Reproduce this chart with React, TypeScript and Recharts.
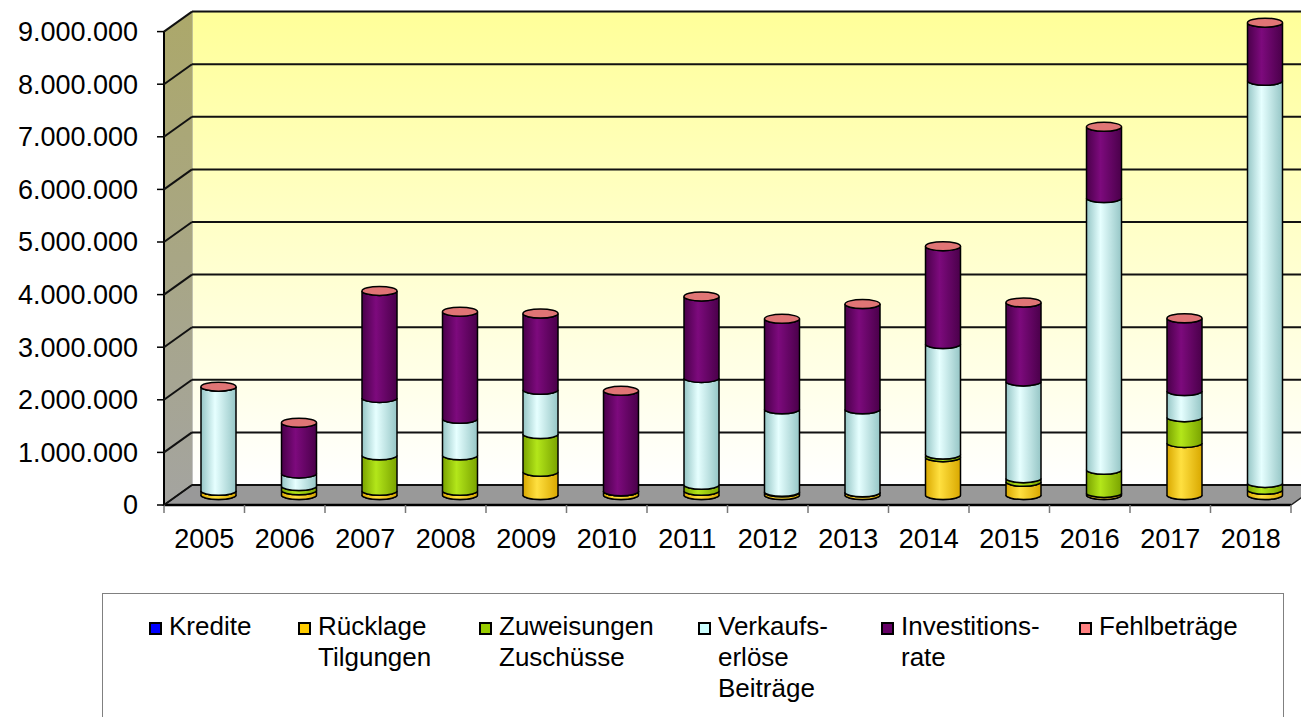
import { BarChart, Bar, XAxis, YAxis, ReferenceArea, ReferenceLine, Legend } from 'recharts';

const YEARS = ['2005', '2006', '2007', '2008', '2009', '2010', '2011', '2012', '2013', '2014', '2015', '2016', '2017', '2018'];
const KREDITE = [0, 0, 0, 0, 0, 0, 0, 0, 0, 0, 0, 0, 0, 0];
const RUECKLAGE = [80000, 90000, 80000, 80000, 440000, 70000, 80000, 50000, 50000, 720000, 250000, 40000, 990000, 100000];
const ZUWEISUNGEN = [0, 80000, 675000, 675000, 720000, 0, 115000, 10000, 0, 50000, 70000, 440000, 490000, 130000];
const VERKAUF = [1980000, 240000, 1090000, 695000, 840000, 0, 2030000, 1570000, 1580000, 2100000, 1840000, 5165000, 495000, 7645000];
const INVEST = [0, 965000, 2035000, 2035000, 1450000, 1910000, 1550000, 1720000, 2000000, 1860000, 1500000, 1355000, 1385000, 1105000];
const FEHL = [0, 0, 0, 0, 0, 0, 0, 0, 0, 0, 0, 0, 0, 0];
const Y_TICKS = [0, 1000000, 2000000, 3000000, 4000000, 5000000, 6000000, 7000000, 8000000, 9000000];

const SERIES = [
  { key: 'kredite', lines: ['Kredite'], color: '#0000ff', edge: '#0000b0', mid: '#3333ff' },
  { key: 'ruecklage', lines: ['Rücklage', 'Tilgungen'], color: '#ffcc00', edge: '#d9a800', mid: '#ffe040' },
  { key: 'zuweisungen', lines: ['Zuweisungen', 'Zuschüsse'], color: '#99cc00', edge: '#7aa300', mid: '#b3e61a' },
  { key: 'verkauf', lines: ['Verkaufs-', 'erlöse', 'Beiträge'], color: '#ccffff', edge: '#96c6c6', mid: '#e6ffff' },
  { key: 'invest', lines: ['Investitions-', 'rate'], color: '#660066', edge: '#4a004a', mid: '#7d0a7d' },
  { key: 'fehl', lines: ['Fehlbeträge'], color: '#ff8080', edge: '#d86a6a', mid: '#e07575' },
];

const data = YEARS.map((year, i) => ({
  year,
  kredite: KREDITE[i],
  ruecklage: RUECKLAGE[i],
  zuweisungen: ZUWEISUNGEN[i],
  verkauf: VERKAUF[i],
  invest: INVEST[i],
  fehl: FEHL[i],
}));

// half the 3D depth offset
const DX = 14;
const DY = 10;
const FONT = '"Liberation Sans", Arial, sans-serif';
const PLOT_LEFT = 178;
const PLOT_W = 1127;
const BAND = PLOT_W / YEARS.length;

const fmt = (v: number) => String(v).replace(/\B(?=(\d{3})+(?!\d))/g, '.');

const cylinder = (s: typeof SERIES[number]) => (props: any) => {
  const { x, y, width, height } = props;
  const rx = width / 2;
  const ry = 4.5;
  if (s.key === 'fehl') {
    return (
      <ellipse cx={x + rx} cy={y} rx={rx} ry={ry} fill={s.mid} stroke="#000" strokeWidth={1.5} />
    );
  }
  const yb = y + height;
  const d = `M${x},${y} A${rx},${ry} 0 0 0 ${x + width},${y} L${x + width},${yb} A${rx},${ry} 0 0 1 ${x},${yb} Z`;
  return <path d={d} fill={`url(#cyl-${s.key})`} stroke="#000" strokeWidth={1.5} />;
};

const Walls = (props: any) => {
  const { x, y, width, height } = props;
  const bottom = y + height;
  return (
    <g>
      <defs>
        <linearGradient id="backwall" x1="0" y1="0" x2="0" y2="1">
          <stop offset="0%" stopColor="#ffff99" />
          <stop offset="100%" stopColor="#ffffff" />
        </linearGradient>
        <linearGradient id="sidewall" x1="0" y1="0" x2="0" y2="1">
          <stop offset="0%" stopColor="#aca86a" />
          <stop offset="100%" stopColor="#a4a4a0" />
        </linearGradient>
      </defs>
      <rect x={x + DX} y={y - DY} width={width + 20} height={height} fill="url(#backwall)" stroke="#888" strokeWidth={1} />
      <polygon
        points={`${x - DX},${y + DY} ${x + DX},${y - DY} ${x + DX},${bottom - DY} ${x - DX},${bottom + DY}`}
        fill="url(#sidewall)"
      />
      <polygon
        points={`${x - DX},${bottom + DY} ${x + DX},${bottom - DY} ${x + width + DX},${bottom - DY} ${x + width - DX},${bottom + DY}`}
        fill="#999999"
        stroke="#222"
        strokeWidth={1.5}
      />
      <line x1={x - DX} y1={y + DY} x2={x - DX} y2={bottom + DY} stroke="#000" strokeWidth={2} />
      <line x1={x - DX} y1={bottom + DY} x2={x + width - DX} y2={bottom + DY} stroke="#000" strokeWidth={2.5} />
    </g>
  );
};

const GridLine = (props: any) => {
  const { x1, x2, y1 } = props;
  return (
    <g>
      <line x1={x1 - DX} y1={y1 + DY} x2={x1 + DX} y2={y1 - DY} stroke="#111" strokeWidth={2} />
      <line x1={x1 + DX} y1={y1 - DY} x2={x2 + DX + 20} y2={y1 - DY} stroke="#111" strokeWidth={2} />
    </g>
  );
};

const YTick = (props: any) => {
  const { y, payload } = props;
  const fy = y + DY;
  return (
    <g>
      <line x1={PLOT_LEFT - DX - 7} y1={fy} x2={PLOT_LEFT - DX} y2={fy} stroke="#000" strokeWidth={1.5} />
      <text x={138} y={fy} dy="0.35em" textAnchor="end" fontSize={27} fontFamily={FONT} fill="#000">
        {fmt(payload.value)}
      </text>
    </g>
  );
};

const XTick = (props: any) => {
  const { x, payload, index } = props;
  const fx = x - DX;
  const base = 505;
  const last = index === YEARS.length - 1;
  return (
    <g>
      <line x1={fx - BAND / 2} y1={base} x2={fx - BAND / 2} y2={base + 8} stroke="#777" strokeWidth={1.5} />
      {last && <line x1={fx + BAND / 2} y1={base} x2={fx + BAND / 2} y2={base + 8} stroke="#777" strokeWidth={1.5} />}
      <text x={fx} y={538.5} dy="0.35em" textAnchor="middle" fontSize={27} fontFamily={FONT} fill="#000">
        {payload.value}
      </text>
    </g>
  );
};

const LEGEND_X = [46, 195, 376, 595, 778, 976];

const renderLegend = () => (
  <div
    style={{
      position: 'relative',
      width: 1182,
      height: 140,
      boxSizing: 'border-box',
      border: '1px solid #808080',
      background: '#fff',
      fontFamily: FONT,
      fontSize: 26,
      lineHeight: '31px',
      color: '#000',
    }}
  >
    {SERIES.map((s, i) => (
      <div key={s.key} style={{ position: 'absolute', left: LEGEND_X[i], top: 17 }}>
        <div
          style={{
            position: 'absolute',
            left: 0,
            top: 11,
            width: 13,
            height: 13,
            boxSizing: 'border-box',
            border: '2px solid #000',
            background: s.color,
          }}
        />
        <div style={{ marginLeft: 20, whiteSpace: 'nowrap' }}>
          {s.lines.map((l, k) => (
            <div key={k}>{l}</div>
          ))}
        </div>
      </div>
    ))}
  </div>
);

export default function App() {
  return (
    <div style={{ position: 'absolute', left: 0, top: 0, width: 1301, height: 717, overflow: 'hidden', background: '#fff' }}>
      <BarChart
        width={1305}
        height={717}
        data={data}
        margin={{ top: 21.6, right: 0, bottom: 192, left: 0 }}
        barCategoryGap={0}
      >
        <defs>
          {SERIES.map(s => (
            <linearGradient key={s.key} id={`cyl-${s.key}`} x1="0" y1="0" x2="1" y2="0">
              <stop offset="0%" stopColor={s.edge} />
              <stop offset="40%" stopColor={s.mid} />
              <stop offset="100%" stopColor={s.edge} />
            </linearGradient>
          ))}
        </defs>
        <XAxis dataKey="year" height={30} axisLine={false} tickLine={false} tick={XTick} interval={0} />
        <YAxis
          width={PLOT_LEFT}
          domain={[0, 9000000]}
          ticks={Y_TICKS}
          axisLine={false}
          tickLine={false}
          tick={YTick}
          interval={0}
        />
        <ReferenceArea y1={0} y2={9000000} shape={Walls} zIndex={-200} />
        {Y_TICKS.map(t => (
          <ReferenceLine key={t} y={t} shape={GridLine} zIndex={-150} />
        ))}
        {SERIES.map(s => (
          <Bar
            key={s.key}
            dataKey={s.key}
            stackId="a"
            barSize={35}
            fill={s.color}
            shape={cylinder(s)}
            isAnimationActive={false}
          />
        ))}
        <Legend
          layout="vertical"
          align="center"
          verticalAlign="middle"
          content={renderLegend}
          wrapperStyle={{ left: 102, top: 593, width: 1182, height: 140 }}
        />
      </BarChart>
    </div>
  );
}
